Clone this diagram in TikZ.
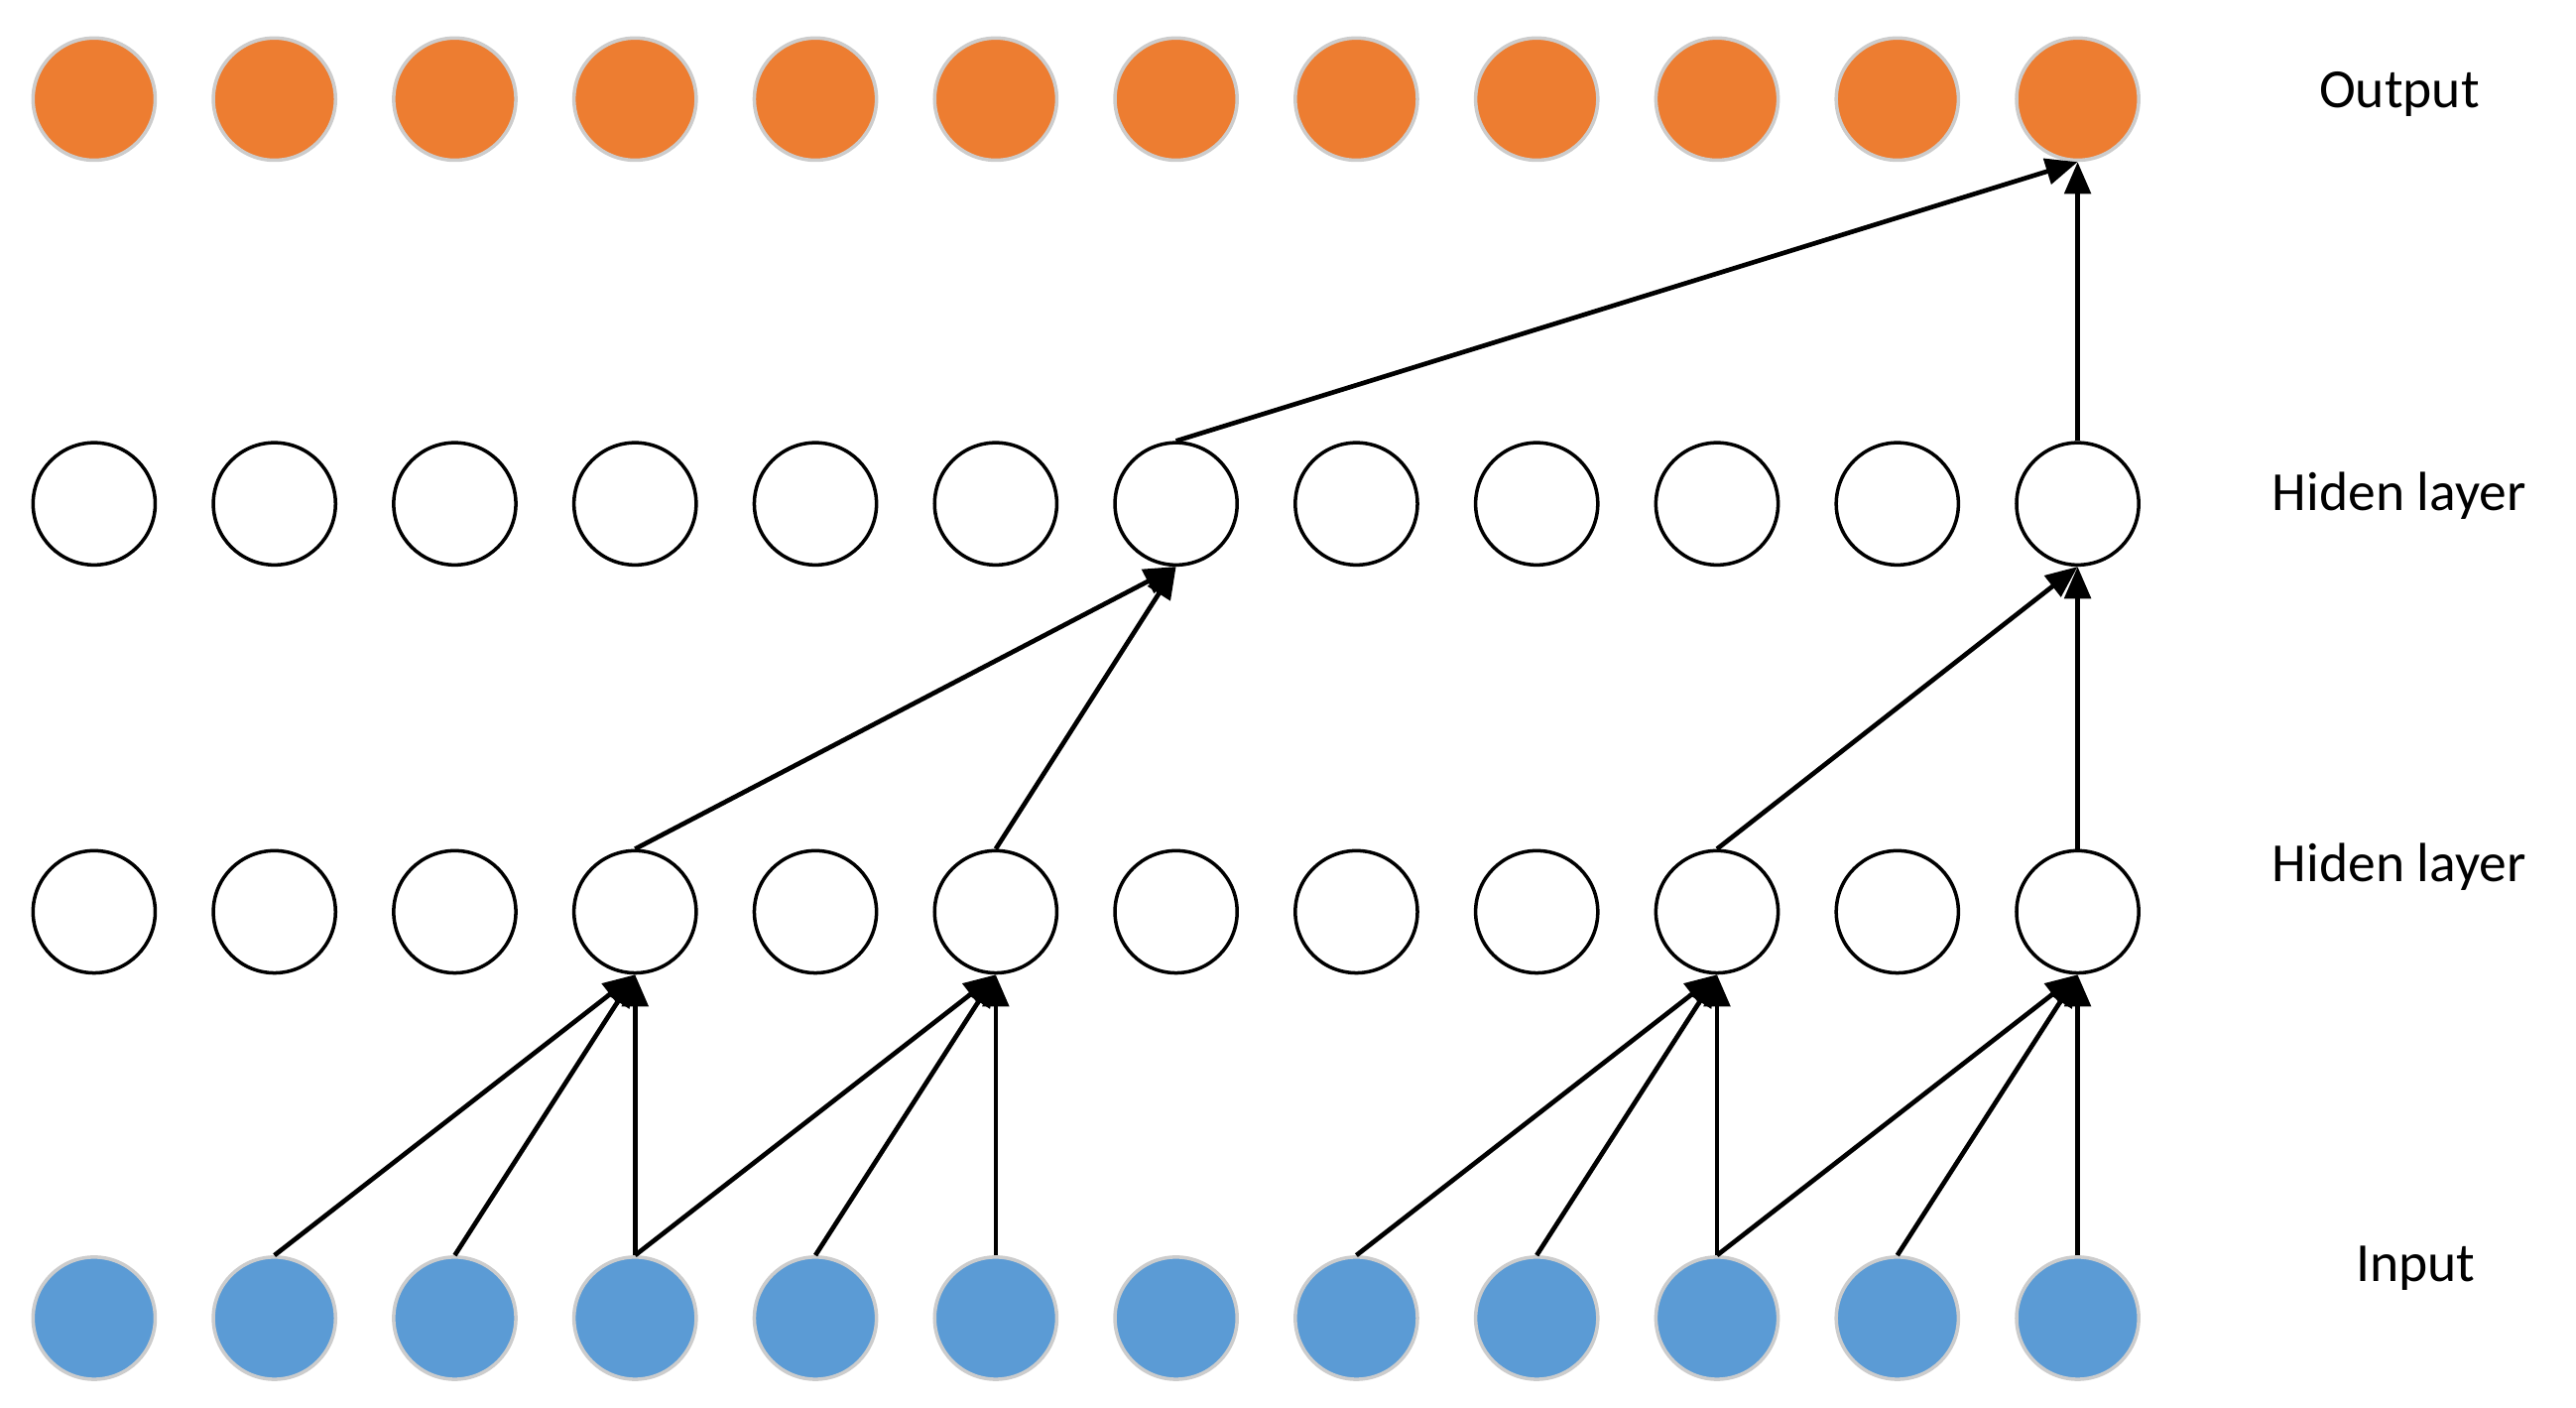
\documentclass[tikz,border=0pt]{standalone}
\usepackage{fontspec}
\setmainfont{Carlito}
\usetikzlibrary{arrows.meta}
\definecolor{org}{HTML}{ED7D31}
\definecolor{blu}{HTML}{5B9BD5}
\begin{document}
\begin{tikzpicture}[x=0.02cm,y=-0.02cm,
  neu/.style={circle,minimum size=74*0.02cm,inner sep=0pt,line width=1.2pt},
  outn/.style={neu,fill=org,draw=gray!40},
  inn/.style={neu,fill=blu,draw=gray!40},
  hid/.style={neu,fill=white,draw=black},
  lab/.style={font=\fontsize{19}{22}\selectfont},
  arr/.style={line width=1.6pt,-{Triangle[length=11pt,width=9pt]}}]
\useasboundingbox (0,0) rectangle (1560,852);
\foreach \i in {0,...,11}{
  \node[outn] (o\i) at (57+109.2*\i,60) {};
  \node[hid] (b\i) at (57+109.2*\i,305) {};
  \node[hid] (a\i) at (57+109.2*\i,552) {};
  \node[inn] (i\i) at (57+109.2*\i,798) {};
}
\node[lab] (lo) at (1453,57) {Output};
\node[lab] (lb) at (1453,300) {Hiden layer};
\node[lab] (la) at (1453,525) {Hiden layer};
\node[lab] (li) at (1463,768) {Input};
\foreach \s/\t in {1/3,2/3,3/3,3/5,4/5,5/5,7/9,8/9,9/9,9/11,10/11,11/11}
  \draw[arr] (i\s.north) -- (a\t.south);
\foreach \s/\t in {3/6,5/6,9/11,11/11}
  \draw[arr] (a\s.north) -- (b\t.south);
\foreach \s/\t in {6/11,11/11}
  \draw[arr] (b\s.north) -- (o\t.south);
\end{tikzpicture}
\end{document}
